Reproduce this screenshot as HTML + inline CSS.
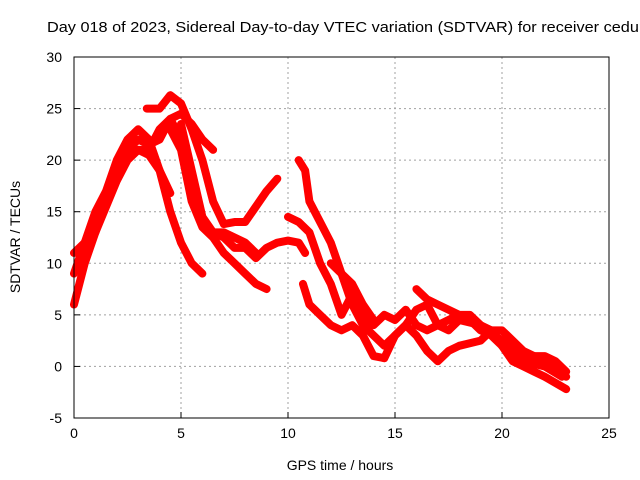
<!DOCTYPE html>
<html><head><meta charset="utf-8"><style>
body{margin:0;background:#fff;overflow:hidden;}
svg{display:block;font-family:"Liberation Sans",sans-serif;}
</style></head><body>
<svg id="chart" width="640" height="480"></svg>
<script>
const xTicks=[0,5,10,15,20,25];
const yTicks=[-5,0,5,10,15,20,25,30];
const track1=[[0,6],[0.5,10],[1,13],[1.5,16],[2,19],[2.5,21],[3,22],[3.5,21.5],[4,22],[4.5,24],[5,24.5],[5.5,23.5],[6,22],[6.5,21]];
const track2=[[3.4,25],[4,25],[4.5,26.3],[5,25.5],[5.5,23],[6,20],[6.5,16],[7,13.8],[7.5,14],[8,14],[8.5,15.5],[9,17],[9.5,18.2]];
const track3=[[0,9],[0.5,12],[1,15],[1.5,17],[2,20],[2.5,22],[3,23],[3.5,22],[4,19],[4.5,16.8]];
const track4=[[0,11],[1,13],[2,18],[2.5,20],[3,21],[3.5,21],[4,23],[4.5,24],[5,22],[5.5,17],[6,14],[6.5,13],[7,12.5],[7.5,11.5],[8,11.5],[8.5,10.5],[9,11.5],[9.5,12],[10,12.2],[10.5,12],[10.8,11]];
const track5=[[3,21],[3.5,20.5],[4,19],[4.5,15],[5,12],[5.5,10],[6,9]];
const track6=[[4.5,23],[5,21],[5.5,16],[6,13.5],[6.5,12.5],[7,11],[7.5,10],[8,9],[8.5,8],[9,7.5]];
const track7=[[5,23.5],[5.5,19],[6,14.5],[6.5,13],[7,13],[7.5,12.5],[8,12],[8.5,11]];
const track8=[[10.5,20],[10.8,19],[11,16],[11.5,14],[12,12],[12.5,9],[13,6],[13.5,4],[14,3],[14.5,2],[15,3],[15.5,4],[16,3],[16.5,1.5],[17,0.5],[17.5,1.5],[18,2],[19,2.5],[19.5,3.5],[20,3.5],[21,1.5],[22,0.5],[22.5,0],[23,-1]];
const track9=[[10,14.5],[10.5,14],[11,13],[11.5,10],[12,8],[12.5,5],[13,7],[13.5,5],[14,4],[14.5,5],[15,4.5],[15.5,5.5],[16,4],[16.5,3.5],[17,4],[17.5,4.5],[18,5],[18.5,4.5],[19,3.5],[19.5,3],[20,2],[20.5,0.5],[21,0],[21.5,-0.5],[22,-1],[23,-2.2]];
const track10=[[10.7,8],[11,6],[11.5,5],[12,4],[12.5,3.5],[13,4],[13.5,3],[14,1],[14.5,0.8],[15,3],[15.5,4],[16,5.5],[16.5,6],[17,4],[17.5,3.5],[18,4.5],[19,4],[20,2.5],[21,0.5],[22,0],[22.8,-1]];
const track11=[[16,7.5],[16.5,6.5],[17,6],[17.5,5.5],[18,5],[18.5,5],[19,4],[19.5,3.5],[20,2],[21,1],[22,1],[22.5,0.5],[23,-0.5]];
const track12=[[12,10],[12.5,9],[13,8],[13.5,6],[14,4.5]];
const tracks=[track1,track2,track3,track4,track5,track6,track7,track8,track9,track10,track11,track12];

const NS="http://www.w3.org/2000/svg";
const svg=document.getElementById('chart');
const L=74,R=609,T=57,B=418,xMin=0,xMax=25,yMin=-5,yMax=30;
const xs=v=>L+(v-xMin)/(xMax-xMin)*(R-L);
const ys=v=>B-(v-yMin)/(yMax-yMin)*(B-T);
function mk(tag,attrs){const e=document.createElementNS(NS,tag);for(const k in attrs)e.setAttribute(k,attrs[k]);svg.appendChild(e);return e;}

xTicks.forEach(t=>{
  const x=xs(t);
  if(t>xMin&&t<xMax){const g=mk('line',{x1:x,x2:x,y1:T,y2:B,stroke:'#a0a0a0','stroke-dasharray':'2,3'});
  
  }
  const tk=mk('line',{x1:x,x2:x,y1:B,y2:B-6,stroke:'#000'});
  
  
  const lb=mk('text',{x:x,y:B+20,'text-anchor':'middle','font-size':14});
  lb.textContent=t;
  
  
});
yTicks.forEach(t=>{
  const y=ys(t);
  if(t>yMin&&t<yMax){const g=mk('line',{x1:L,x2:R,y1:y,y2:y,stroke:'#a0a0a0','stroke-dasharray':'2,3'});
  
  }
  const tk=mk('line',{x1:L,x2:L+6,y1:y,y2:y,stroke:'#000'});
  
  
  const lb=mk('text',{x:L-12,y:y+5,'text-anchor':'end','font-size':14});
  lb.textContent=t;
  
  
});
tracks.forEach(tr=>{
  const p=mk('polyline',{points:tr.map(d=>xs(d[0])+','+ys(d[1])).join(' '),fill:'none',stroke:'#ff0000','stroke-width':8,'stroke-linejoin':'round','stroke-linecap':'round'});
  
  
});
const bd=mk('rect',{x:L,y:T,width:R-L,height:B-T,fill:'none',stroke:'#000'});


const ti=mk('text',{x:47,y:32,'font-size':15,textLength:610,lengthAdjust:'spacingAndGlyphs'});
ti.textContent='Day 018 of 2023, Sidereal Day-to-day VTEC variation (SDTVAR) for receiver ceduna';


const xl=mk('text',{x:340,y:470,'text-anchor':'middle','font-size':14});
xl.textContent='GPS time / hours';


const yl=mk('text',{x:0,y:0,'text-anchor':'middle','font-size':14,transform:'translate(20,237) rotate(-90)'});
yl.textContent='SDTVAR / TECUs';


</script>
</body></html>
